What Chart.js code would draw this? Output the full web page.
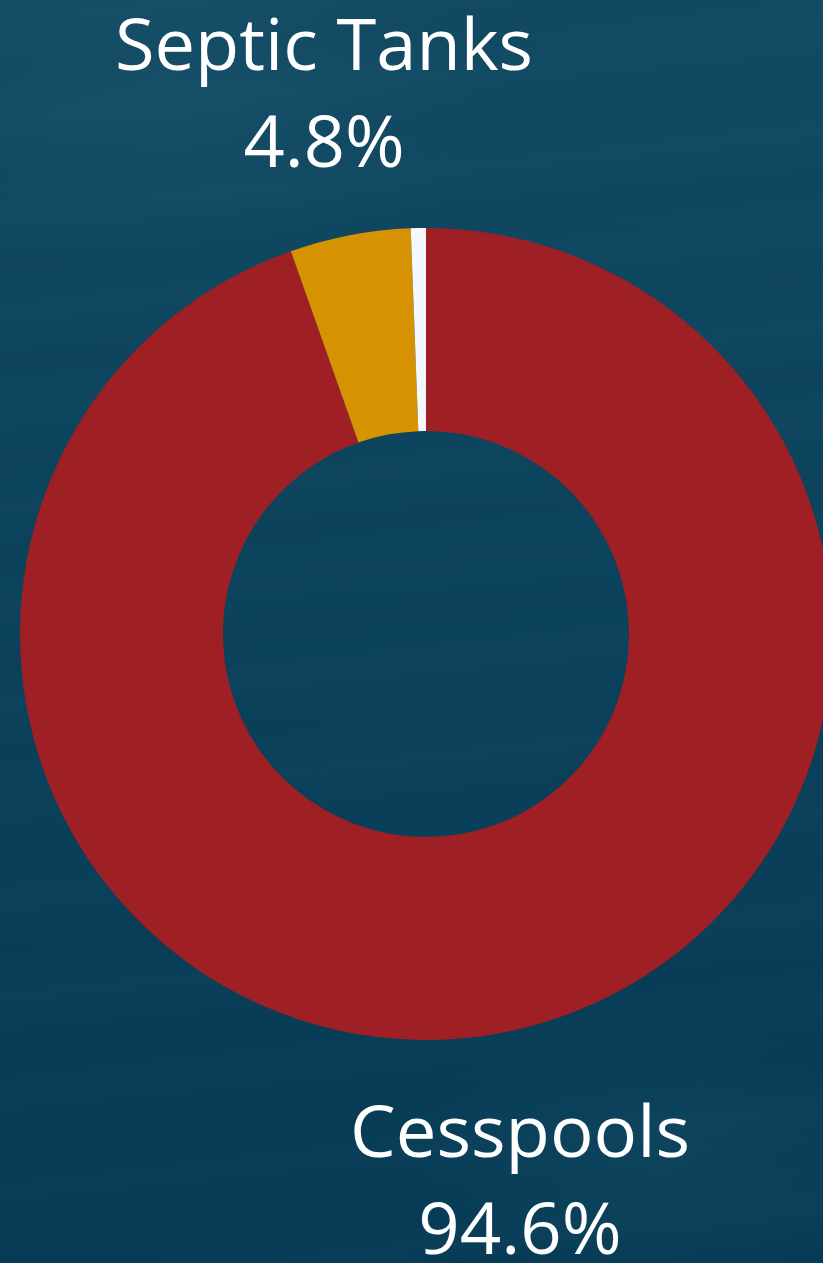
<!DOCTYPE html>
<html>
<head>
<meta charset="utf-8">
<title>Cesspools and Septic Tanks</title>
<script src="https://cdn.jsdelivr.net/npm/chart.js@4"></script>
<style>
  html, body {
    margin: 0;
    padding: 0;
    width: 823px;
    height: 1263px;
    overflow: hidden;
  }
  body {
    background:
      radial-gradient(ellipse 60% 20% at 20% 8%, rgba(40, 100, 125, 0.22), rgba(40, 100, 125, 0) 70%),
      radial-gradient(ellipse 50% 15% at 80% 92%, rgba(40, 100, 125, 0.18), rgba(40, 100, 125, 0) 70%),
      repeating-linear-gradient(174deg, rgba(255, 255, 255, 0) 0px, rgba(255, 255, 255, 0.012) 22px, rgba(255, 255, 255, 0) 45px, rgba(0, 0, 0, 0.015) 70px, rgba(255, 255, 255, 0) 97px),
      linear-gradient(180deg, #124a63 0%, #0b425c 45%, #073b55 100%);
  }
  #wrap {
    position: absolute;
    left: 0;
    top: 0;
    width: 823px;
    height: 1263px;
  }
</style>
</head>
<body>
<div id="wrap"><canvas id="myChart"></canvas></div>
<script>
'use strict';

// Shares of on-site systems, clockwise from the top
const categories = ['Cesspools', 'Septic Tanks', 'Other'];
const shares = [94.6, 4.8, 0.6];
const sliceColors = ['#9e1f24', '#d69200', '#f5f9fc'];

// Which categories get a caption, and where the caption sits
const captions = [
  { index: 1, x: 324, y: 70, width: 418 },
  { index: 0, x: 520, y: 1157, width: 340 }
];

// Draws "name" on one line and "value%" below it
const captionPlugin = {
  id: 'captions',
  afterDraw(chart) {
    const ctx = chart.ctx;
    ctx.save();
    ctx.fillStyle = '#ffffff';
    ctx.textAlign = 'center';
    ctx.textBaseline = 'alphabetic';
    ctx.font = '400 72px "Open Sans"';
    for (let i = 0; i < captions.length; i++) {
      let c = captions[i];
      let name = categories[c.index];
      let value = shares[c.index] + '%';
      let w = ctx.measureText(name).width;
      let sx = c.width / w;
      ctx.save();
      ctx.translate(c.x, c.y);
      ctx.scale(sx, 1);
      ctx.fillText(name, 0, 0);
      ctx.fillText(value, 0, 97);
      ctx.restore();
    }
    ctx.restore();
  }
};

const data = {
  labels: categories,
  datasets: [{
    data: shares,
    backgroundColor: sliceColors,
    borderWidth: 0,
    radius: 406,
    cutout: '50%'
  }]
};

const config = {
  type: 'doughnut',
  data: data,
  options: {
    responsive: false,
    animation: false,
    layout: {
      padding: { left: 29, right: 0, top: 228, bottom: 223 }
    },
    plugins: {
      legend: { display: false },
      tooltip: { enabled: false }
    }
  },
  plugins: [captionPlugin]
};

const canvas = document.getElementById('myChart');
canvas.width = 823;
canvas.height = 1263;
canvas.style.width = '823px';
canvas.style.height = '1263px';

const myChart = new Chart(canvas, config);
</script>
</body>
</html>
